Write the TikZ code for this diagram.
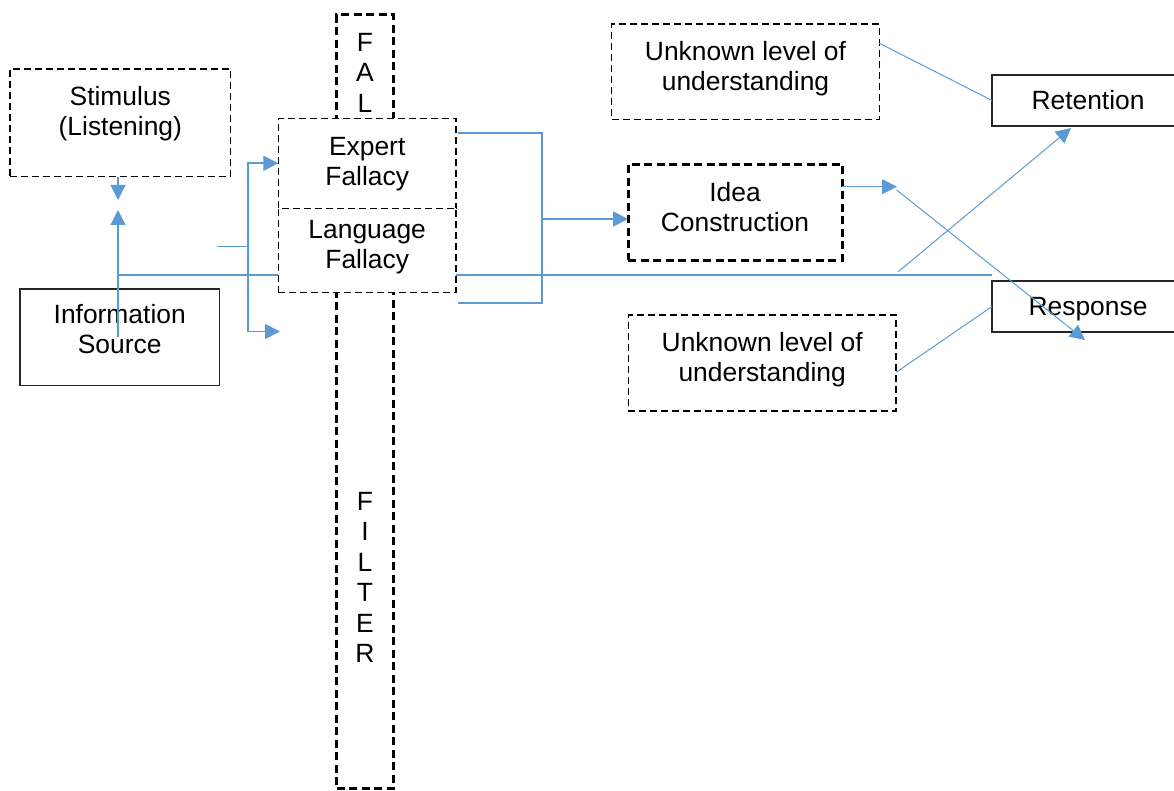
\documentclass[tikz,border=0pt]{standalone}
\usepackage{fontspec}
\setmainfont{Liberation Sans}
\usetikzlibrary{arrows.meta,positioning}
\definecolor{wordblue}{HTML}{5B9BD5}
\newcommand{\twolines}[3][0pt]{\raisebox{#1}[\height][\depth]{\begin{tabular}{@{}c@{}}#2\\#3\end{tabular}}}
\newcommand{\letterstack}[1]{\begin{tabular}{@{}c@{}}#1\end{tabular}}

\begin{document}
\begin{tikzpicture}[
    x=1pt, y=1pt,
    mydashed/.style={
    draw=black,
    line width=1.2pt,
    dash pattern=on 7pt off 4pt,
    fill=white,
    inner sep=0pt,
    outer sep=0pt,
    font=\fontsize{26.4}{30}\selectfont},
    mythick/.style={
    draw=black,
    line width=3pt,
    dash pattern=on 8pt off 4.5pt,
    inner sep=0pt,
    outer sep=0pt,
    font=\fontsize{26.4}{30}\selectfont},
    mysolid/.style={
    draw=black!85,
    line width=1.3pt,
    inner sep=0pt,
    outer sep=0pt,
    font=\fontsize{26.4}{30}\selectfont},
    myletters/.style={inner sep=0pt,font=\fontsize{26.4}{#1}\selectfont},
    myline/.style={draw=wordblue,line width=1.2pt},
    myarrow/.style={myline,-{Triangle[length=15pt,width=15pt]}},
    node distance=0pt and 0pt
    ]

    \useasboundingbox (0,0) rectangle (1174,-791);
    \clip (0,0) rectangle (1174,-791);

    \node[mydashed, minimum width=220.7pt, minimum height=107.7pt] (stim) at (120.3,-122.8) {\twolines[8.3pt]{Stimulus}{(Listening)}};
    \node[mysolid, minimum width=199.3pt, minimum height=96.7pt] (source) at (119.7,-337.3) {\twolines[4.8pt]{Information}{Source}};
    \node[mythick, minimum width=57pt, minimum height=773.5pt] (filter) at (365,-401.3) {};
    \node[myletters=30.8] (fal) at (365,-75.8) {\letterstack{F\\A\\L}};
    \node[myletters=30.4] (filtertext) at (365,-580.4) {\letterstack{F\\I\\L\\T\\E\\R}};

    \coordinate (stimtip) at (118,-200);
    \coordinate (sourcetip) at (118,-210);
    \coordinate (busleft) at (118,-275);
    \coordinate (busright) at (992,-275);
    \coordinate (stub) at (217,-246.5);
    \coordinate (fork) at (248.3,-246.5);
    \coordinate (forkend) at (280,-331.5);

    \draw[myarrow] (stim.south -| stimtip) -- (stimtip);
    \draw[myarrow] (source.center -| sourcetip) -- (sourcetip);
    \draw[myline] (busleft) -- (busright);

    \node[mydashed, minimum width=177.7pt, minimum height=90pt] (expert) at (367.2,-163.3) {\twolines[-1pt]{Expert}{Fallacy}};
    \node[mydashed, minimum width=177.7pt, minimum height=84pt, below=0pt of expert] (language) {\twolines[2.8pt]{Language}{Fallacy}};

    \draw[myline, line width=1.8pt] (stub) -- (fork);
    \draw[myarrow, line width=1.8pt] (fork) |- (expert.west);
    \draw[myarrow, line width=1.8pt] (fork) |- (forkend);

    \node[mythick, minimum width=214pt, minimum height=96pt] (idea) at (735,-212.2) {\twolines[2pt]{Idea}{Construction}};

    \coordinate (bracetop) at (458,-133.3);
    \coordinate (bracebot) at (458,-303.3);
    \coordinate (brace) at (542.3,-219);
    \draw[myline, line width=1.8pt] (bracetop) -| (brace) |- (bracebot);
    \draw[myarrow, line width=1.8pt] (brace) -- (brace -| idea.west);

    \node[mydashed, minimum width=267.6pt, minimum height=95.3pt] (unknownA) at (745.5,-71.7) {\twolines[2pt]{Unknown level of}{understanding}};
    \node[mydashed, minimum width=267.7pt, minimum height=96pt] (unknownB) at (762.2,-363) {\twolines[3pt]{Unknown level of}{understanding}};

    \node[mysolid, minimum width=192pt, minimum height=51pt] (retention) at (1088,-100.5) {Retention};
    \node[mysolid, minimum width=192pt, minimum height=51pt, text depth=0pt, below=155pt of retention] (response) {Response};

    \coordinate (ideatip) at (897,-186.7);
    \coordinate (crossA) at (896.7,-190);
    \coordinate (crossB) at (898.3,-271.7);
    \coordinate (responsetip) at (1085,-340);
    \coordinate (retentiontip) at (1071,-128);

    \draw[myarrow] (idea.east |- ideatip) -- (ideatip);
    \draw[myarrow, line width=1pt] (crossA) -- (responsetip);
    \draw[myarrow, line width=1pt] (crossB) -- (retentiontip);
    \draw[myline, line width=1pt] (unknownA.12) -- (retention.west);
    \draw[myline, line width=1pt] (unknownB.-4) -- (response.west);
\end{tikzpicture}
\end{document}
